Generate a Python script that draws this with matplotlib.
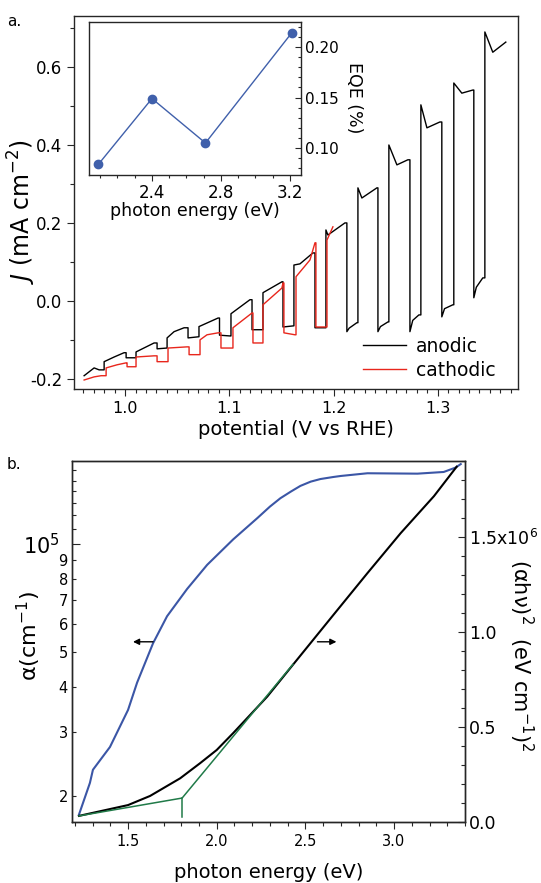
import matplotlib
matplotlib.use('Agg')
import matplotlib.pyplot as plt
from matplotlib.ticker import MultipleLocator, FixedLocator, FixedFormatter

plt.rcParams['font.family'] = ['DejaVu Sans']
plt.rcParams['axes.unicode_minus'] = False
plt.rcParams['mathtext.fontset'] = 'dejavusans'

# ---- panel a: chopped-light J-V sweeps ----
anodic_v = [0.9607, 0.9655, 0.9703, 0.9751, 0.9799, 0.9799, 0.9895, 0.9990, 1.0010, 1.0010,
            1.0105, 1.0105, 1.0278, 1.0307, 1.0307, 1.0403, 1.0403, 1.0470, 1.0566, 1.0604,
            1.0604, 1.0709, 1.0709, 1.0892, 1.0906, 1.0906, 1.1007, 1.1016, 1.1016, 1.1198,
            1.1218, 1.1218, 1.1323, 1.1323, 1.1505, 1.1515, 1.1515, 1.1620, 1.1620, 1.1678,
            1.1802, 1.1822, 1.1822, 1.1927, 1.1927, 1.1946, 1.2109, 1.2128, 1.2128, 1.2150,
            1.2224, 1.2234, 1.2234, 1.2272, 1.2416, 1.2426, 1.2426, 1.2450, 1.2522, 1.2531,
            1.2531, 1.2608, 1.2713, 1.2733, 1.2733, 1.2760, 1.2819, 1.2838, 1.2838, 1.2896,
            1.3020, 1.3039, 1.3039, 1.3065, 1.3145, 1.3154, 1.3154, 1.3231, 1.3337, 1.3346,
            1.3346, 1.3370, 1.3432, 1.3452, 1.3452, 1.3528, 1.3653]
anodic_j = [-0.192, -0.182, -0.172, -0.177, -0.177, -0.156, -0.144, -0.133, -0.133, -0.146,
            -0.146, -0.131, -0.108, -0.108, -0.123, -0.121, -0.095, -0.079, -0.069, -0.069,
            -0.095, -0.092, -0.066, -0.044, -0.044, -0.088, -0.090, -0.090, -0.033, 0.003,
            0.003, -0.074, -0.074, 0.021, 0.049, 0.049, -0.067, -0.064, 0.092, 0.095,
            0.123, 0.123, -0.069, -0.069, 0.182, 0.169, 0.200, 0.200, -0.079, -0.070,
            -0.056, -0.056, 0.290, 0.264, 0.290, 0.290, -0.079, -0.066, -0.054, -0.054,
            0.400, 0.349, 0.362, 0.362, -0.079, -0.050, -0.036, -0.036, 0.503, 0.444,
            0.459, 0.459, -0.041, -0.020, -0.010, -0.010, 0.559, 0.533, 0.541, 0.541,
            0.008, 0.035, 0.059, 0.059, 0.690, 0.638, 0.664]

cathodic_v = [0.9607, 0.9703, 0.9770, 0.9818, 0.9818, 0.9923, 1.0010, 1.0019, 1.0019, 1.0105,
              1.0105, 1.0278, 1.0307, 1.0307, 1.0412, 1.0412, 1.0594, 1.0614, 1.0614, 1.0719,
              1.0719, 1.0786, 1.0892, 1.0920, 1.0920, 1.1035, 1.1035, 1.1218, 1.1227, 1.1227,
              1.1323, 1.1323, 1.1505, 1.1515, 1.1524, 1.1524, 1.1630, 1.1640, 1.1640, 1.1774,
              1.1822, 1.1831, 1.1831, 1.1937, 1.1937, 1.1994]
cathodic_j = [-0.203, -0.195, -0.192, -0.192, -0.172, -0.164, -0.159, -0.159, -0.169, -0.169,
              -0.144, -0.141, -0.141, -0.156, -0.156, -0.121, -0.118, -0.118, -0.138, -0.138,
              -0.100, -0.087, -0.082, -0.082, -0.121, -0.121, -0.069, -0.031, -0.031, -0.108,
              -0.108, -0.010, 0.033, 0.046, 0.046, -0.082, -0.087, -0.087, 0.062, 0.105,
              0.149, 0.149, -0.067, -0.067, 0.156, 0.190]

# inset: EQE vs photon energy
eqe_energy = [2.09, 2.40, 2.71, 3.21]
eqe_pct = [0.084, 0.149, 0.105, 0.214]

# ---- panel b: absorption ----
alpha_e = [1.223, 1.285, 1.302, 1.398, 1.500, 1.551, 1.641, 1.720, 1.833, 1.946,
           2.093, 2.229, 2.300, 2.359, 2.420, 2.472, 2.530, 2.585, 2.658, 2.700,
           2.850, 3.132, 3.280, 3.347, 3.376]
alpha = [1.77e4, 2.17e4, 2.36e4, 2.73e4, 3.46e4, 4.12e4, 5.30e4, 6.30e4, 7.50e4, 8.75e4,
         1.03e5, 1.18e5, 1.27e5, 1.34e5, 1.40e5, 1.45e5, 1.49e5, 1.515e5, 1.535e5, 1.545e5,
         1.572e5, 1.568e5, 1.585e5, 1.63e5, 1.667e5]

tauc_e = [1.223, 1.500, 1.624, 1.794, 1.907, 2.000, 2.093, 2.285, 2.432,
          2.658, 2.850, 3.037, 3.225, 3.353]
tauc = [0.032e6, 0.089e6, 0.137e6, 0.230e6, 0.310e6, 0.379e6, 0.468e6, 0.660e6, 0.830e6,
        1.090e6, 1.310e6, 1.520e6, 1.715e6, 1.870e6]

fit_e = [1.223, 1.805, 2.430]
fit = [0.032e6, 0.126e6, 0.830e6]
gap_e = [1.805, 1.805]
gap = [0.126e6, 0.026e6]

arrow_left = ((1.528, 5.35e4), (1.641, 5.35e4))   # (head, tail)
arrow_right = ((2.675, 5.35e4), (2.568, 5.35e4))

BLUE = '#3b56a6'
INSET_BLUE = '#4060ab'
GREEN = '#207a48'
RED = '#e8261c'
SPINE = '#262626'
W, H = 541.0, 883.0


def style_spines(ax):
    for s in ax.spines.values():
        s.set_linewidth(1.0)
        s.set_color(SPINE)


fig = plt.figure(figsize=(5.41, 8.83), dpi=100)

# ---------------- panel a ----------------
ax = fig.add_axes([0.1368, 0.5595, 0.8207, 0.4224])
ax.plot(anodic_v, anodic_j, color='black', lw=1.0, label='anodic')
ax.plot(cathodic_v, cathodic_j, color=RED, lw=1.0, label='cathodic')
ax.set_xlim(0.951, 1.377)
ax.set_ylim(-0.226, 0.731)
ax.xaxis.set_major_locator(MultipleLocator(0.1))
ax.xaxis.set_minor_locator(MultipleLocator(0.01))
ax.yaxis.set_major_locator(MultipleLocator(0.2))
ax.yaxis.set_minor_locator(MultipleLocator(0.1))
ax.xaxis.set_major_formatter(plt.FuncFormatter(lambda v, p: f'{v:.1f}'))
ax.yaxis.set_major_formatter(plt.FuncFormatter(lambda v, p: f'{v:.1f}'))
ax.tick_params(which='both', direction='out', width=0.8, color=SPINE)
ax.tick_params(which='major', length=5)
ax.tick_params(which='minor', length=3)
ax.tick_params(axis='y', labelsize=12)
ax.tick_params(axis='x', labelsize=11.5)
style_spines(ax)
ax.set_xlabel('potential (V vs RHE)', fontsize=14, labelpad=3)
fig.text(22 / W, 1 - 212 / H, '$J$ (mA cm$^{-2}$)', fontsize=17, rotation=90,
         ha='center', va='center')
ax.legend(loc='lower left', bbox_to_anchor=(0.63, 0.0), frameon=False, fontsize=13.5,
          handlelength=2.3, handletextpad=0.5, borderpad=0, labelspacing=0.25)

# inset
ins = fig.add_axes([0.1645, 0.8018, 0.3919, 0.1733])
ins.plot(eqe_energy, eqe_pct, color=INSET_BLUE, lw=1.0, marker='o', ms=6)
ins.set_xlim(2.035, 3.264)
ins.set_ylim(0.0733, 0.2248)
ins.xaxis.set_major_locator(FixedLocator([2.4, 2.8, 3.2]))
ins.xaxis.set_minor_locator(MultipleLocator(0.1))
ins.yaxis.set_major_locator(MultipleLocator(0.05))
ins.yaxis.set_minor_locator(MultipleLocator(0.01))
ins.yaxis.set_major_formatter(plt.FuncFormatter(lambda v, p: f'{v:.2f}'))
ins.yaxis.tick_right()
ins.tick_params(which='both', width=0.8, color=SPINE)
ins.tick_params(axis='x', which='both', direction='out')
ins.tick_params(axis='y', which='both', direction='in')
ins.tick_params(which='major', length=4.5)
ins.tick_params(which='minor', length=2.5)
ins.tick_params(axis='x', labelsize=12, pad=2)
ins.tick_params(axis='y', labelsize=11, pad=3)
style_spines(ins)
ins.set_xlabel('photon energy (eV)', fontsize=12.5, labelpad=0)
fig.text(354 / W, 1 - 98 / H, 'EQE (%)', fontsize=12.5, rotation=270,
         ha='center', va='center')

fig.text(0.013, 0.984, 'a.', fontsize=11, ha='left', va='top')

# ---------------- panel b ----------------
bx = fig.add_axes([0.1331, 0.0691, 0.7264, 0.4088])
bx.plot(alpha_e, alpha, color=BLUE, lw=1.5)
bx.set_yscale('log')
bx.set_xlim(1.184, 3.40)
bx.set_ylim(1.69e4, 1.70e5)
bx.xaxis.set_major_locator(MultipleLocator(0.5))
bx.xaxis.set_minor_locator(MultipleLocator(0.1))
bx.xaxis.set_major_formatter(plt.FuncFormatter(lambda v, p: f'{v:.1f}'))
bx.yaxis.set_major_locator(FixedLocator([1e5]))
bx.yaxis.set_major_formatter(FixedFormatter(['10$^5$']))
minor_vals = [2e4, 3e4, 4e4, 5e4, 6e4, 7e4, 8e4, 9e4, 1.1e5, 1.2e5, 1.3e5, 1.4e5, 1.5e5, 1.6e5]
minor_labs = ['2', '3', '4', '5', '6', '7', '8', '9', '', '', '', '', '', '']
bx.yaxis.set_minor_locator(FixedLocator(minor_vals))
bx.yaxis.set_minor_formatter(FixedFormatter(minor_labs))
bx.tick_params(which='both', width=0.8, color=SPINE)
bx.tick_params(axis='x', which='both', direction='out')
bx.tick_params(axis='x', which='major', length=5, labelsize=10.5)
bx.tick_params(axis='x', which='minor', length=3)
bx.tick_params(axis='y', which='both', direction='in')
bx.tick_params(axis='y', which='major', length=6, labelsize=15, pad=9)
bx.tick_params(axis='y', which='minor', length=3, labelsize=10.5, pad=3)
style_spines(bx)
bx.set_xlabel('photon energy (eV)', fontsize=14, labelpad=10)
fig.text(29 / W, 1 - 636 / H, 'α(cm$^{-1}$)', fontsize=16, rotation=90,
         ha='center', va='center')

for head, tail in (arrow_left, arrow_right):
    bx.annotate('', xy=head, xytext=tail,
                arrowprops=dict(arrowstyle='-|>', color='black', lw=1.0, mutation_scale=9,
                                shrinkA=0, shrinkB=0))

bx2 = bx.twinx()
bx2.plot(tauc_e, tauc, color='black', lw=1.5)
bx2.plot(fit_e, fit, color=GREEN, lw=1.1)
bx2.plot(gap_e, gap, color=GREEN, lw=1.1)
bx2.set_ylim(0, 1.9e6)
bx2.yaxis.set_major_locator(FixedLocator([0, 0.5e6, 1.0e6, 1.5e6]))
bx2.yaxis.set_major_formatter(FixedFormatter(['0.0', '0.5', '1.0', '1.5x10$^6$']))
bx2.yaxis.set_minor_locator(MultipleLocator(0.1e6))
bx2.tick_params(which='both', direction='in', width=0.8, color=SPINE)
bx2.tick_params(which='major', length=5, labelsize=12.5, pad=3)
bx2.tick_params(which='minor', length=3)
style_spines(bx2)
fig.text(521 / W, 1 - 655 / H, '(αhν)$^2$  (eV cm$^{-1}$)$^2$', fontsize=15, rotation=270,
         ha='center', va='center')

fig.text(0.013, 0.482, 'b.', fontsize=11, ha='left', va='top')

fig.savefig('out.png', dpi=100)
